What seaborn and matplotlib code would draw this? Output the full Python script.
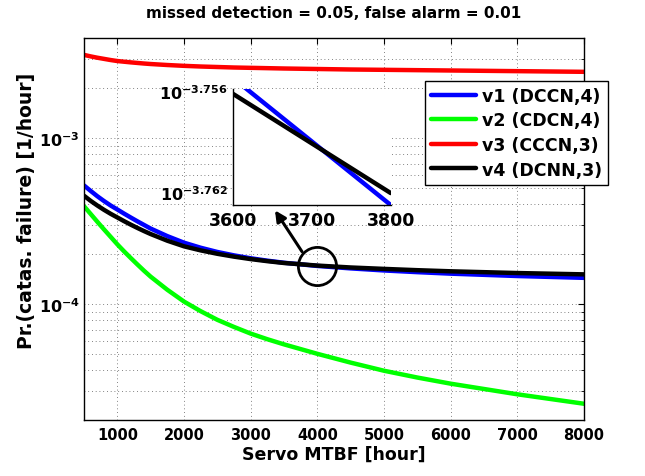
import numpy as np
import pandas as pd
import matplotlib
matplotlib.use("Agg")
import matplotlib.pyplot as plt
import seaborn as sns
from matplotlib.ticker import FixedLocator, LogLocator, NullFormatter, FuncFormatter

# Servo MTBF sweep [hour]
mtbf_hours = [500, 600, 700, 800, 900, 1000, 1100, 1200, 1300, 1400, 1500,
              1750, 2000, 2250, 2500, 2750, 3000, 3250, 3500, 4000, 4500,
              5000, 5500, 6000, 7000, 8000]

# log10 of Pr.(catastrophic failure) [1/hour] for each architecture
log_rate_v1 = [-3.285, -3.318, -3.350, -3.379, -3.406, -3.430, -3.4545, -3.478,
               -3.501, -3.523, -3.545, -3.5905, -3.630, -3.6605, -3.686, -3.7065,
               -3.724, -3.7385, -3.751, -3.7703, -3.785, -3.7975, -3.8077,
               -3.8168, -3.831, -3.842]
log_rate_v2 = [-3.410, -3.457, -3.504, -3.550, -3.595, -3.640, -3.682, -3.722,
               -3.761, -3.799, -3.835, -3.914, -3.985, -4.043, -4.095, -4.138,
               -4.178, -4.212, -4.243, -4.300, -4.353, -4.402, -4.443, -4.480,
               -4.544, -4.601]
log_rate_v3 = [-2.498, -2.507, -2.515, -2.522, -2.529, -2.535, -2.539, -2.543,
               -2.5465, -2.550, -2.553, -2.559, -2.564, -2.568, -2.571, -2.574,
               -2.576, -2.578, -2.580, -2.583, -2.586, -2.588, -2.590, -2.592,
               -2.596, -2.600]
log_rate_v4 = [-3.347, -3.378, -3.406, -3.432, -3.456, -3.478, -3.500, -3.521,
               -3.541, -3.560, -3.578, -3.6182, -3.652, -3.6765, -3.697, -3.7142,
               -3.729, -3.7415, -3.7525, -3.768, -3.7795, -3.788, -3.7958,
               -3.8025, -3.813, -3.821]

series_labels = ["v1 (DCCN,4)", "v2 (CDCN,4)", "v3 (CCCN,3)", "v4 (DCNN,3)"]
series_colors = ["#0000ff", "#00ff00", "#ff0000", "#000000"]

# Close-up of the v1 / v4 crossing (log10 of the rate)
zoom_hours = [3600, 3800]
zoom_log_v1 = [-3.75524, -3.76277]
zoom_log_v4 = [-3.75618, -3.76206]
zoom_yticks = [-3.762, -3.756]

sns.set_style("white")
plt.rcParams.update({
    "font.family": ["DejaVu Sans"],
    "font.weight": "bold",
    "text.color": "black",
    "axes.labelcolor": "black",
    "xtick.labelcolor": "black",
    "ytick.labelcolor": "black",
    "mathtext.fontset": "custom",
    "mathtext.rm": "DejaVu Sans:bold",
    "mathtext.bf": "DejaVu Sans:bold",
    "mathtext.it": "DejaVu Sans:bold",
    "mathtext.default": "bf",
    "axes.edgecolor": "black",
    "axes.linewidth": 1.0,
    "xtick.color": "black",
    "ytick.color": "black",
})

W, H = 645, 477
fig = plt.figure(figsize=(W / 100, H / 100), dpi=100)
fig.patch.set_facecolor("white")

ax_l, ax_r, ax_t, ax_b = 84, 584, 39.3, 421
ax = fig.add_axes([ax_l / W, 1 - ax_b / H, (ax_r - ax_l) / W, (ax_b - ax_t) / H])

palette = dict(zip(series_labels, series_colors))
all_logs = log_rate_v1 + log_rate_v2 + log_rate_v3 + log_rate_v4
df = pd.DataFrame({
    "mtbf": mtbf_hours * 4,
    "rate": np.power(10.0, all_logs),
    "design": np.repeat(series_labels, len(mtbf_hours)),
})
sns.lineplot(data=df, x="mtbf", y="rate", hue="design", palette=palette,
             hue_order=series_labels, linewidth=3.2, estimator=None, ax=ax)

ax.set_yscale("log")
ax.set_xlim(500, 8000)
ax.set_ylim(2e-5, 4e-3)
ax.set_xticks(range(1000, 8001, 1000))
ax.yaxis.set_major_locator(LogLocator(base=10))
ax.yaxis.set_minor_locator(LogLocator(base=10, subs=np.arange(2, 10)))
ax.yaxis.set_major_formatter(FuncFormatter(lambda v, _: rf"$10^{{{int(round(np.log10(v)))}}}$"))
ax.yaxis.set_minor_formatter(NullFormatter())

grid_kw = dict(color="0.35", linestyle=(0, (1, 3.5)), linewidth=0.6)
ax.grid(True, which="major", axis="x", **grid_kw)
ax.grid(True, which="both", axis="y", **grid_kw)
ax.set_axisbelow(True)

ax.tick_params(which="both", direction="in", top=True, right=True, color="black")
ax.tick_params(which="major", length=4, width=0.8)
ax.tick_params(which="minor", length=2.5, width=0.6)
ax.tick_params(axis="x", labelsize=10.5, pad=5)
ax.tick_params(axis="y", labelsize=11.5, pad=3)
for lab in ax.get_xticklabels() + ax.get_yticklabels():
    lab.set_fontweight("bold")

ax.set_xlabel("Servo MTBF [hour]", fontsize=12.5, fontweight="bold", labelpad=2)
ax.set_ylabel("Pr.(catas. failure) [1/hour]", fontsize=13.5, fontweight="bold")
ax.yaxis.set_label_coords(-0.095, 0.55)
fig.text(0.5 * (ax_l + ax_r) / W, 1 - 14 / H,
         "missed detection = 0.05, false alarm = 0.01",
         ha="center", va="center", fontsize=11, fontweight="bold")

handles, labels = ax.get_legend_handles_labels()
leg = ax.legend(handles, labels, loc="upper right",
                bbox_to_anchor=(608.3 / W, 1 - 81.7 / H),
                bbox_transform=fig.transFigure, borderaxespad=0,
                prop={"size": 12.5, "weight": "bold"}, frameon=True,
                fancybox=False, framealpha=1, edgecolor="black",
                handlelength=2.6, handletextpad=0.35, labelspacing=0.38,
                borderpad=0.35)
leg.get_frame().set_linewidth(1.0)
for line in leg.get_lines():
    line.set_linewidth(3.2)

# highlight circle around the crossing and pointer to the close-up
cx = 4000
cy = 10.0 ** log_rate_v4[mtbf_hours.index(cx)]
ax.plot([cx], [cy], marker="o", markersize=27.5, markerfacecolor="none",
        markeredgecolor="black", markeredgewidth=2.0, zorder=6)
ax.annotate("", xy=(3365, 3.67e-4), xytext=(3770, 2.07e-4),
            arrowprops=dict(arrowstyle="-|>", color="black", lw=2.2,
                            mutation_scale=16, shrinkA=0, shrinkB=0),
            zorder=6)

# close-up axes
in_l, in_r, in_t, in_b = 233.3, 390.7, 90, 206
ins = fig.add_axes([in_l / W, 1 - in_b / H, (in_r - in_l) / W, (in_b - in_t) / H])
ins.set_facecolor("white")
zdf = pd.DataFrame({
    "mtbf": zoom_hours * 2,
    "lograte": zoom_log_v1 + zoom_log_v4,
    "design": np.repeat([series_labels[0], series_labels[3]], len(zoom_hours)),
})
sns.lineplot(data=zdf, x="mtbf", y="lograte", hue="design", palette=palette,
             linewidth=3.2, estimator=None, legend=False, ax=ins)
ins.set_xlim(3600, 3800)
ins.set_ylim(-3.76277, -3.75588)
ins.set_xticks([3600, 3700, 3800])
ins.yaxis.set_major_locator(FixedLocator(zoom_yticks))
ins.yaxis.set_major_formatter(FuncFormatter(lambda v, _: rf"$10^{{{v:.3f}}}$"))
ins.set_xlabel("")
ins.set_ylabel("")
ins.spines["top"].set_visible(False)
ins.spines["right"].set_visible(False)
ins.tick_params(which="both", direction="in", length=3, width=0.8, pad=4)
ins.tick_params(axis="x", labelsize=12.5)
ins.tick_params(axis="y", labelsize=11.5)
for lab in ins.get_xticklabels() + ins.get_yticklabels():
    lab.set_fontweight("bold")

fig.savefig("out.png", dpi=100, facecolor="white")
